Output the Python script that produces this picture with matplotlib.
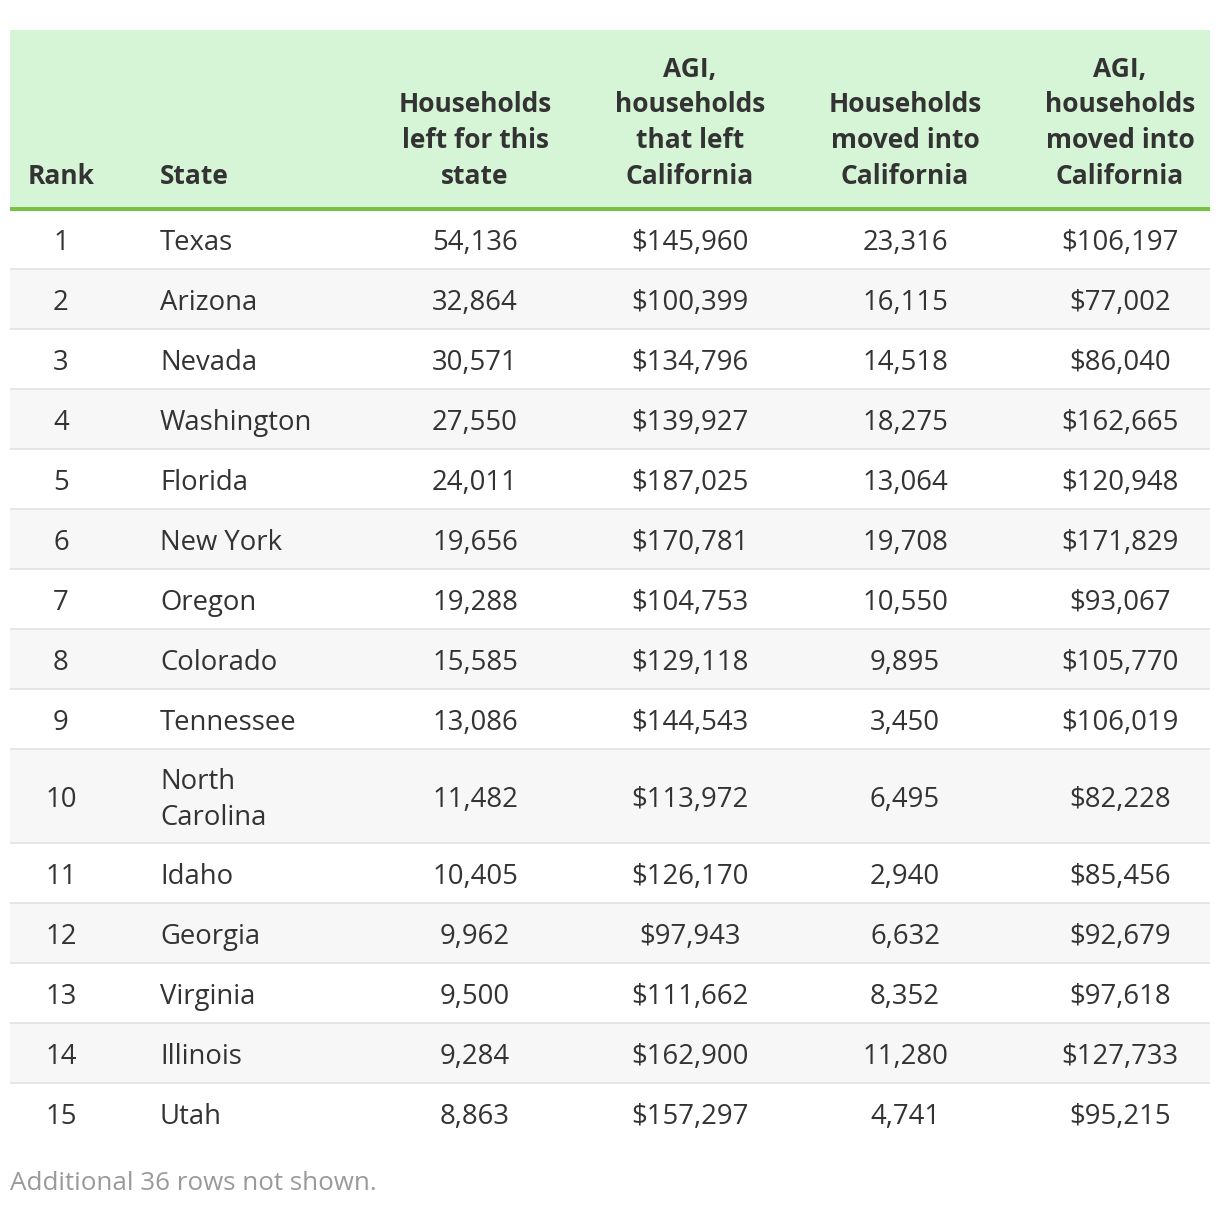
import textwrap
import matplotlib.pyplot as plt
from matplotlib.patches import Rectangle

# table data
ranks = list(range(1, 16))
states = ["Texas", "Arizona", "Nevada", "Washington", "Florida", "New York", "Oregon",
          "Colorado", "Tennessee", "North Carolina", "Idaho", "Georgia", "Virginia",
          "Illinois", "Utah"]
households_left = [54136, 32864, 30571, 27550, 24011, 19656, 19288, 15585, 13086,
                   11482, 10405, 9962, 9500, 9284, 8863]
agi_left = [145960, 100399, 134796, 139927, 187025, 170781, 104753, 129118, 144543,
            113972, 126170, 97943, 111662, 162900, 157297]
households_in = [23316, 16115, 14518, 18275, 13064, 19708, 10550, 9895, 3450,
                 6495, 2940, 6632, 8352, 11280, 4741]
agi_in = [106197, 77002, 86040, 162665, 120948, 171829, 93067, 105770, 106019,
          82228, 85456, 92679, 97618, 127733, 95215]
headers = ["Rank", "State", "Households\nleft for this\nstate",
           "AGI,\nhouseholds\nthat left\nCalifornia",
           "Households\nmoved into\nCalifornia",
           "AGI,\nhouseholds\nmoved into\nCalifornia"]
footnote = "Additional 36 rows not shown."

# layout (pixels)
W, H = 1220, 1208
left, right = 10, 1210
col_x = [61, 160, 475, 690, 905, 1120]
col_ha = ["center", "left", "center", "center", "center", "center"]
head_top, head_bottom = 30, 207
row_h, extra_line = 60, 34
line_px = 36
fs = 19.8
fs_head = 19

txt = "#333333"
plt.rcParams['font.family'] = ['Open Sans', 'DejaVu Sans']

fig = plt.figure(figsize=(W / 100, H / 100), dpi=100)
ax = fig.add_axes([0, 0, 1, 1])
ax.set_xlim(0, W)
ax.set_ylim(H, 0)
ax.axis("off")

# header
ax.add_patch(Rectangle((left, head_top), right - left, head_bottom - head_top,
                       color="#d6f5d7", lw=0))
ax.add_patch(Rectangle((left, head_bottom), right - left, 3.5, color="#79c143", lw=0))
for x, ha, h in zip(col_x, col_ha, headers):
    lines = h.split("\n")
    for k, ln in enumerate(reversed(lines)):
        ax.text(x, 177 - k * line_px, ln, ha=ha, va="center", fontsize=fs_head,
                fontweight="bold", color=txt)

# body rows
y = head_bottom + 3
n = len(ranks)
for i in range(n):
    state = textwrap.fill(states[i], 12)
    nl = state.count("\n") + 1
    h = row_h + extra_line * (nl - 1)
    if i % 2 == 1:
        ax.add_patch(Rectangle((left, y), right - left, h, color="#f7f7f7", lw=0))
    if i < n - 1:
        ax.add_patch(Rectangle((left, y + h - 2), right - left, 2, color="#e6e6e6", lw=0))
    yc = y + h / 2 + 3
    vals = [str(ranks[i]), state, f"{households_left[i]:,}", f"${agi_left[i]:,}",
            f"{households_in[i]:,}", f"${agi_in[i]:,}"]
    for x, ha, v in zip(col_x, col_ha, vals):
        ax.text(x, yc, v, ha=ha, va="center", fontsize=fs, color=txt, linespacing=1.37)
    y += h

ax.text(left, 1184, footnote, ha="left", va="center", fontsize=18.7, color="#9a9a9a")

fig.savefig("out.png", dpi=100)
